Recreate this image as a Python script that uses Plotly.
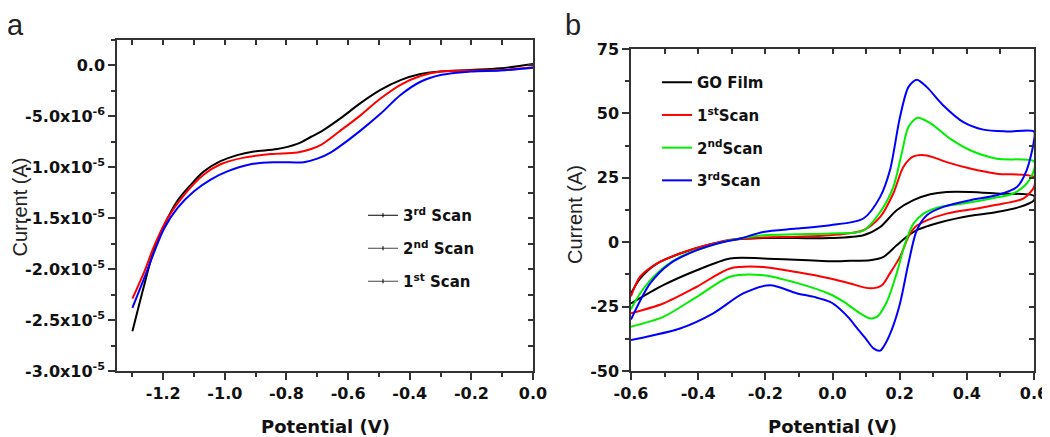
import plotly.graph_objects as go

# ---------------- Panel a: linear sweeps (potential V, current in microamps) ----------------
a_black_v = [-1.30, -1.262, -1.229, -1.197, -1.154, -1.110, -1.068, -1.014, -0.960, -0.906, -0.830,
             -0.765, -0.720, -0.688, -0.625, -0.560, -0.495, -0.430, -0.365, -0.300, -0.203, -0.105, 0.0]
a_black_i = [-26.1, -21.6, -18.0, -15.7, -13.3, -11.7, -10.4, -9.4, -8.8, -8.45, -8.2,
             -7.7, -7.0, -6.5, -5.2, -3.7, -2.4, -1.44, -0.84, -0.6, -0.45, -0.28, 0.15]

a_red_v = [-1.30, -1.262, -1.229, -1.186, -1.132, -1.068, -1.014, -0.938, -0.851, -0.765, -0.720,
           -0.688, -0.625, -0.560, -0.495, -0.430, -0.365, -0.300, -0.203, -0.105, 0.0]
a_red_i = [-22.9, -20.3, -17.7, -15.0, -12.7, -10.7, -9.7, -9.05, -8.7, -8.55, -8.2,
           -7.8, -6.4, -4.9, -3.25, -1.9, -1.04, -0.6, -0.5, -0.45, -0.18]

a_blue_v = [-1.30, -1.262, -1.229, -1.197, -1.154, -1.100, -1.046, -0.992, -0.916, -0.830, -0.744,
            -0.700, -0.657, -0.625, -0.560, -0.495, -0.430, -0.365, -0.300, -0.203, -0.105, 0.0]
a_blue_i = [-23.8, -20.9, -18.3, -16.0, -14.0, -12.35, -11.2, -10.4, -9.7, -9.5, -9.5,
            -9.15, -8.55, -7.9, -6.4, -4.75, -2.9, -1.6, -0.94, -0.6, -0.5, -0.22]

a_legend_names = ["3<sup>rd</sup> Scan", "2<sup>nd</sup> Scan", "1<sup>st</sup> Scan"]

a_x_ticks = [-1.2, -1.0, -0.8, -0.6, -0.4, -0.2, 0.0]
a_x_labels = ["-1.2", "-1.0", "-0.8", "-0.6", "-0.4", "-0.2", "0.0"]
a_y_ticks = [0.0, -5.0e-6, -1.0e-5, -1.5e-5, -2.0e-5, -2.5e-5, -3.0e-5]
a_y_labels = ["0.0", "-5.0x10<sup>-6</sup>", "-1.0x10<sup>-5</sup>", "-1.5x10<sup>-5</sup>",
              "-2.0x10<sup>-5</sup>", "-2.5x10<sup>-5</sup>", "-3.0x10<sup>-5</sup>"]

# ---------------- Panel b: cyclic voltammograms (forward then reverse) ----------------
go_up_v = [-0.6, -0.573, -0.523, -0.454, -0.375, -0.305, -0.206, -0.107, -0.007, 0.092, 0.142,
           0.191, 0.241, 0.291, 0.340, 0.410, 0.489, 0.6]
go_up_i = [-19.9, -14.1, -8.3, -4.4, -1.2, 0.8, 1.6, 1.6, 1.6, 2.7, 5.9,
           12.4, 16.3, 18.6, 19.5, 19.5, 18.9, 18.0]
go_dn_v = [0.6, 0.558, 0.489, 0.390, 0.291, 0.251, 0.221, 0.191, 0.152, 0.112, 0.052, -0.007,
           -0.206, -0.305, -0.404, -0.504, -0.6]
go_dn_i = [16.3, 13.7, 11.7, 9.8, 6.6, 4.65, 2.1, -1.2, -5.7, -7.0, -7.2, -7.4,
           -6.3, -6.3, -10.9, -16.7, -23.8]

s1_up_v = [-0.6, -0.573, -0.523, -0.454, -0.375, -0.305, -0.206, -0.107, -0.007, 0.092, 0.142,
           0.181, 0.211, 0.241, 0.281, 0.340, 0.410, 0.489, 0.6]
s1_up_i = [-21.0, -13.4, -8.3, -4.4, -1.2, 1.0, 1.8, 2.1, 2.7, 4.65, 9.8,
           18.9, 29.2, 33.3, 33.7, 31.1, 28.6, 26.6, 25.3]
s1_dn_v = [0.6, 0.568, 0.509, 0.430, 0.340, 0.281, 0.246, 0.226, 0.201, 0.171, 0.147, 0.112,
           0.052, -0.007, -0.107, -0.206, -0.305, -0.404, -0.504, -0.6]
s1_dn_i = [21.4, 16.9, 15.0, 13.1, 11.1, 8.5, 5.9, 2.1, -5.7, -12.1, -16.7, -17.9,
           -16.0, -14.1, -11.6, -9.6, -10.2, -17.3, -23.8, -27.6]

s2_up_v = [-0.6, -0.573, -0.523, -0.454, -0.375, -0.305, -0.206, -0.107, -0.007, 0.092, 0.142,
           0.181, 0.206, 0.226, 0.253, 0.291, 0.350, 0.410, 0.489, 0.6]
s2_up_i = [-26.0, -19.9, -12.1, -5.7, -1.8, 0.8, 2.7, 3.1, 3.4, 4.5, 11.7,
           21.4, 34.4, 44.7, 48.3, 46.2, 40.2, 35.7, 32.4, 31.4]
s2_dn_v = [0.6, 0.578, 0.538, 0.469, 0.390, 0.320, 0.271, 0.241, 0.216, 0.191, 0.162, 0.132,
           0.112, 0.082, 0.033, -0.007, -0.107, -0.206, -0.305, -0.404, -0.504, -0.6]
s2_dn_i = [27.9, 22.7, 18.9, 16.9, 15.0, 13.7, 11.1, 7.2, -0.5, -12.1, -23.1, -29.0,
           -29.6, -27.6, -23.1, -20.2, -15.8, -12.8, -13.4, -21.2, -29.0, -32.8]

s3_up_v = [-0.6, -0.543, -0.484, -0.404, -0.325, -0.275, -0.206, -0.107, -0.007, 0.092, 0.142,
           0.171, 0.201, 0.226, 0.251, 0.281, 0.330, 0.390, 0.449, 0.519, 0.6]
s3_up_i = [-30.0, -16.0, -8.3, -3.1, 0.1, 1.4, 4.0, 5.3, 6.6, 9.2, 17.6,
           27.9, 48.6, 60.2, 63.1, 60.2, 53.1, 46.6, 43.7, 43.0, 43.0]
s3_dn_v = [0.6, 0.578, 0.549, 0.489, 0.410, 0.330, 0.281, 0.251, 0.226, 0.201, 0.176, 0.152,
           0.142, 0.122, 0.100, 0.072, 0.050, 0.022, -0.007, -0.050, -0.107, -0.186, -0.266,
           -0.355, -0.454, -0.543, -0.6]
s3_dn_i = [39.5, 27.9, 21.4, 18.2, 16.3, 13.7, 10.5, 4.65, -8.3, -23.8, -34.1, -40.6,
           -42.1, -41.2, -37.6, -33.2, -29.6, -25.9, -23.2, -21.4, -19.8, -16.7, -19.9,
           -27.6, -33.5, -36.4, -38.0]

b_names = ["GO Film", "1<sup>st</sup>Scan", "2<sup>nd</sup>Scan", "3<sup>rd</sup>Scan"]
b_x_ticks = [-0.6, -0.4, -0.2, 0.0, 0.2, 0.4, 0.6]
b_x_labels = ["-0.6", "-0.4", "-0.2", "0.0", "0.2", "0.4", "0.6"]
b_y_ticks = [75, 50, 25, 0, -25, -50]
b_y_labels = ["75", "50", "25", "0", "-25", "-50"]

# The page body adds an 8px margin, so the figure is sized to fill the rest of the window
OFF = 8
W, H = 1050 - OFF, 437 - OFF
AX = "#333333"
TICKFONT = dict(family="DejaVu Sans", size=16, color="#111111", weight="bold")
LEGFONT = dict(family="DejaVu Sans", size=15, color="#111111", weight="bold")


def px_x(p):
    return (p - OFF) / W


def px_y(p):
    return 1 - (p - OFF) / H


fig = go.Figure()

# Panel a curves (current converted from microamps to amps)
for xs, ys, col in [(a_black_v, a_black_i, "#000000"), (a_red_v, a_red_i, "#ff0000"),
                    (a_blue_v, a_blue_i, "#0000ff")]:
    fig.add_trace(go.Scatter(x=xs, y=[v * 1e-6 for v in ys], mode="lines",
                             line=dict(color=col, width=2, shape="spline", smoothing=1.0),
                             showlegend=False, xaxis="x", yaxis="y"))

# Panel a legend entries (legend-only samples)
for k, name in enumerate(a_legend_names):
    fig.add_trace(go.Scatter(x=[None], y=[None], mode="lines+markers", name=name,
                             line=dict(color="#000000" if k == 0 else "#444444", width=1),
                             marker=dict(symbol="line-ns-open", size=3, color="#000000",
                                         line=dict(width=1, color="#000000")),
                             legend="legend", legendgroup="a%d" % k, xaxis="x", yaxis="y"))

# Panel b curves
for (uv, ui, dv, di), col, name in zip(
        [(go_up_v, go_up_i, go_dn_v, go_dn_i), (s1_up_v, s1_up_i, s1_dn_v, s1_dn_i),
         (s2_up_v, s2_up_i, s2_dn_v, s2_dn_i), (s3_up_v, s3_up_i, s3_dn_v, s3_dn_i)],
        ["#000000", "#ff0000", "#00ee00", "#0000ff"], b_names):
    fig.add_trace(go.Scatter(x=uv + dv, y=ui + di, mode="lines", name=name,
                             line=dict(color=col, width=2, shape="spline", smoothing=0.8),
                             legend="legend2", legendgroup=name, xaxis="x2", yaxis="y2"))

dom_ya = [px_y(371), px_y(40)]
dom_yb = [px_y(371), px_y(49)]
dom_xa = [px_x(117), px_x(533)]
dom_xb = [px_x(631), px_x(1034)]

common = dict(showgrid=False, zeroline=False, showline=True, linecolor=AX, linewidth=1.5,
              mirror=True, ticks="outside", ticklen=7, tickwidth=1.5, tickcolor=AX,
              tickfont=TICKFONT, tickmode="array", automargin=False)
mirror_common = dict(showgrid=False, zeroline=False, showline=False, ticks="inside",
                     ticklen=5, tickwidth=1.5, tickcolor=AX, showticklabels=False,
                     tickmode="linear", automargin=False)

fig.update_layout(
    width=W, height=H, margin=dict(l=0, r=0, t=0, b=0, autoexpand=False),
    paper_bgcolor="white", plot_bgcolor="white",
    xaxis=dict(domain=dom_xa, range=[-1.35, 0.0], anchor="y", tickvals=a_x_ticks,
               ticktext=a_x_labels,
               minor=dict(tickmode="linear", tick0=0, dtick=0.1, ticks="outside", ticklen=4,
                          tickwidth=1.5, tickcolor=AX), **common),
    yaxis=dict(domain=dom_ya, range=[-3.0e-5, 2.5e-6], anchor="x", tickvals=a_y_ticks,
               ticktext=a_y_labels,
               minor=dict(tickmode="linear", tick0=0, dtick=2.5e-6, ticks="outside", ticklen=4,
                          tickwidth=1.5, tickcolor=AX), **common),
    xaxis2=dict(domain=dom_xb, range=[-0.6, 0.6], anchor="y2", tickvals=b_x_ticks,
                ticktext=b_x_labels,
                minor=dict(tickmode="linear", tick0=0, dtick=0.1, ticks="outside", ticklen=4,
                           tickwidth=1.5, tickcolor=AX), **common),
    yaxis2=dict(domain=dom_yb, range=[-50, 75], anchor="x2", tickvals=b_y_ticks,
                ticktext=b_y_labels,
                minor=dict(tickmode="linear", tick0=0, dtick=12.5, ticks="outside", ticklen=4,
                           tickwidth=1.5, tickcolor=AX), **common),
    xaxis3=dict(overlaying="x", side="top", anchor="y", range=[-1.35, 0.0], tick0=0, dtick=0.1,
                **mirror_common),
    yaxis3=dict(overlaying="y", side="right", anchor="x", range=[-3.0e-5, 2.5e-6], tick0=0,
                dtick=2.5e-6, **mirror_common),
    xaxis4=dict(overlaying="x2", side="top", anchor="y2", range=[-0.6, 0.6], tick0=0, dtick=0.1,
                **mirror_common),
    yaxis4=dict(overlaying="y2", side="right", anchor="x2", range=[-50, 75], tick0=0,
                dtick=12.5, **mirror_common),
    legend=dict(x=px_x(363), y=px_y(199), xanchor="left", yanchor="top", bgcolor="rgba(0,0,0,0)",
                font=LEGFONT, traceorder="grouped", tracegroupgap=10.5, borderwidth=0),
    legend2=dict(x=px_x(657), y=px_y(66), xanchor="left", yanchor="top", bgcolor="rgba(0,0,0,0)",
                 font=LEGFONT, traceorder="grouped", tracegroupgap=10.2, borderwidth=0),
    showlegend=True,
)

# Invisible traces so overlay axes get drawn
fig.add_trace(go.Scatter(x=[None], y=[None], xaxis="x3", yaxis="y3", showlegend=False))
fig.add_trace(go.Scatter(x=[None], y=[None], xaxis="x4", yaxis="y4", showlegend=False))

title_font = dict(family="DejaVu Sans", size=18, color="#111111", weight="bold")
ylab_font = dict(family="Liberation Sans", size=20, color="#222222")
fig.add_annotation(x=px_x(325), y=px_y(426), xref="paper", yref="paper", text="Potential (V)",
                   showarrow=False, font=title_font, xanchor="center", yanchor="middle")
fig.add_annotation(x=px_x(832), y=px_y(426), xref="paper", yref="paper", text="Potential (V)",
                   showarrow=False, font=title_font, xanchor="center", yanchor="middle")
fig.add_annotation(x=px_x(19.5), y=px_y(207), xref="paper", yref="paper", text="Current (A)",
                   textangle=-90, showarrow=False, font=ylab_font, xanchor="center",
                   yanchor="middle")
fig.add_annotation(x=px_x(575), y=px_y(215), xref="paper", yref="paper", text="Current (A)",
                   textangle=-90, showarrow=False, font=ylab_font, xanchor="center",
                   yanchor="middle")
fig.add_annotation(x=px_x(15), y=px_y(25), xref="paper", yref="paper", text="a",
                   showarrow=False, font=dict(family="Liberation Sans", size=29, color="#222222"),
                   xanchor="center", yanchor="middle")
fig.add_annotation(x=px_x(573), y=px_y(25), xref="paper", yref="paper", text="b",
                   showarrow=False, font=dict(family="Liberation Sans", size=29, color="#222222"),
                   xanchor="center", yanchor="middle")

fig.write_html("out.html")
